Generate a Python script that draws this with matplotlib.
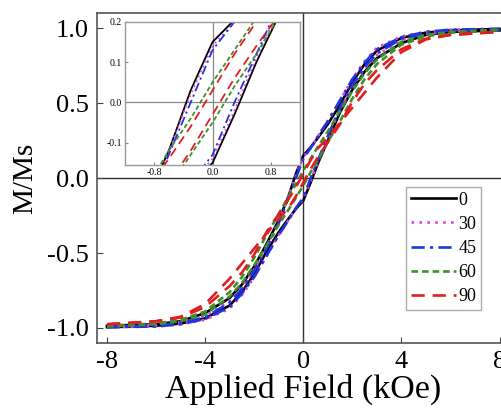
import numpy as np
import matplotlib
matplotlib.use("Agg")
import matplotlib.pyplot as plt

plt.rcParams['font.family'] = ['Liberation Serif', 'DejaVu Serif']

# applied field (kOe), shared grid for every branch
field = [-8, -6, -5, -4, -3, -2.5, -2, -1.5, -1, -0.6, -0.3, 0,
         0.3, 0.6, 1, 1.5, 2, 2.5, 3, 4, 5, 6, 8]

angles = ['0', '30', '45', '60', '90']

# upper branch (sweeping down from +8 kOe), M/Ms
upper_0 = [-0.985, -0.975, -0.955, -0.90, -0.80, -0.71, -0.59, -0.44, -0.28, -0.12, 0.03, 0.15,
           0.205, 0.27, 0.36, 0.49, 0.64, 0.76, 0.85, 0.935, 0.97, 0.985, 0.995]
upper_30 = [-0.99, -0.98, -0.96, -0.92, -0.82, -0.73, -0.61, -0.46, -0.29, -0.12, 0.02, 0.14,
            0.20, 0.28, 0.38, 0.52, 0.66, 0.78, 0.87, 0.945, 0.975, 0.99, 0.995]
upper_45 = [-0.99, -0.985, -0.965, -0.93, -0.83, -0.74, -0.62, -0.47, -0.30, -0.13, 0.00, 0.13,
            0.20, 0.28, 0.38, 0.52, 0.66, 0.77, 0.86, 0.94, 0.975, 0.99, 0.995]
upper_60 = [-0.985, -0.97, -0.945, -0.89, -0.76, -0.66, -0.53, -0.38, -0.24, -0.12, -0.04, 0.05,
            0.13, 0.21, 0.31, 0.45, 0.58, 0.70, 0.79, 0.91, 0.955, 0.975, 0.99]
upper_90 = [-0.975, -0.955, -0.93, -0.86, -0.72, -0.63, -0.51, -0.36, -0.24, -0.14, -0.06, 0.03,
            0.12, 0.20, 0.27, 0.37, 0.47, 0.57, 0.67, 0.84, 0.925, 0.955, 0.975]

# lower branch (sweeping up from -8 kOe), M/Ms
lower_0 = [-0.995, -0.985, -0.97, -0.935, -0.85, -0.76, -0.64, -0.49, -0.36, -0.27, -0.205, -0.15,
           -0.03, 0.10, 0.25, 0.44, 0.59, 0.71, 0.80, 0.90, 0.955, 0.975, 0.985]
lower_30 = [-0.995, -0.99, -0.975, -0.945, -0.87, -0.78, -0.66, -0.52, -0.38, -0.28, -0.20, -0.14,
            -0.02, 0.11, 0.27, 0.46, 0.61, 0.73, 0.82, 0.92, 0.96, 0.98, 0.99]
lower_45 = [-0.995, -0.99, -0.975, -0.94, -0.86, -0.77, -0.66, -0.52, -0.38, -0.28, -0.20, -0.13,
            0.00, 0.12, 0.28, 0.47, 0.62, 0.74, 0.83, 0.93, 0.965, 0.985, 0.99]
lower_60 = [-0.99, -0.975, -0.955, -0.91, -0.79, -0.70, -0.58, -0.45, -0.31, -0.21, -0.13, -0.05,
            0.04, 0.12, 0.24, 0.38, 0.53, 0.66, 0.76, 0.89, 0.945, 0.97, 0.985]
lower_90 = [-0.975, -0.955, -0.925, -0.84, -0.67, -0.57, -0.47, -0.37, -0.27, -0.20, -0.12, -0.03,
            0.06, 0.14, 0.24, 0.36, 0.51, 0.63, 0.72, 0.86, 0.93, 0.955, 0.975]

upper = [upper_0, upper_30, upper_45, upper_60, upper_90]
lower = [lower_0, lower_30, lower_45, lower_60, lower_90]

colors = ['black', '#e33ee3', '#1f35e0', '#3f8f2f', '#e02020']
styles = ['-', (0, (1, 2)), (0, (5, 2, 1.2, 2)), (0, (2.5, 1.5)), (0, (5, 3))]

fig = plt.figure(figsize=(5.02, 4.11), dpi=100)
ax = fig.add_axes([0.1932, 0.1655, 0.822, 0.8025])

for i in range(len(angles)):
    ax.plot(field, upper[i], color=colors[i], linestyle=styles[i], lw=1.9, label=angles[i])
    ax.plot(field, lower[i], color=colors[i], linestyle=styles[i], lw=1.9)

ax.axhline(0, color='#333333', lw=1.0, zorder=0)
ax.axvline(0, color='#333333', lw=1.0, zorder=0)

ax.set_xlim(-8.41, 8.41)
ax.set_ylim(-1.1, 1.1)
ax.set_xticks([-8, -4, 0, 4, 8])
ax.set_xticklabels(['-8', '-4', '0', '4', '8'])
ax.set_yticks([-1.0, -0.5, 0.0, 0.5, 1.0])
ax.set_yticklabels(['-1.0', '-0.5', '0.0', '0.5', '1.0'])
ax.tick_params(direction='in', length=4, labelsize=19, color='#444444', pad=6)
for s in ax.spines.values():
    s.set_color('#555555')
    s.set_linewidth(1.2)
ax.set_xlabel('Applied Field (kOe)', fontsize=24.5, labelpad=0)
ax.set_ylabel('M/Ms', fontsize=21, labelpad=6)

leg = ax.legend(loc='upper left', bbox_to_anchor=(0.809, 0.545), bbox_transform=fig.transFigure,
                fontsize=13, frameon=True, fancybox=False, borderaxespad=0,
                handlelength=2.5, handletextpad=0.15, labelspacing=0.4, borderpad=0.25)
leg.get_frame().set_edgecolor('#999999')
leg.get_frame().set_linewidth(1.0)

# inset zoom around the origin
ins = fig.add_axes([0.249, 0.599, 0.349, 0.348])
for i in range(len(angles)):
    ins.plot(field, upper[i], color=colors[i], linestyle=styles[i], lw=1.3)
    ins.plot(field, lower[i], color=colors[i], linestyle=styles[i], lw=1.3)
ins.axhline(0, color='#888888', lw=0.9, zorder=0)
ins.axvline(0, color='#888888', lw=0.9, zorder=0)
ins.set_xlim(-1.2, 1.2)
ins.set_ylim(-0.155, 0.2)
ins.set_xticks([-0.8, 0.0, 0.8])
ins.set_xticklabels(['-0.8', '0.0', '0.8'])
ins.set_yticks([-0.1, 0.0, 0.1, 0.2])
ins.set_yticklabels(['-0.1', '0.0', '0.1', '0.2'])
ins.tick_params(direction='in', length=2, labelsize=7, color='#888888', pad=2)
for s in ins.spines.values():
    s.set_color('#999999')
    s.set_linewidth(1.0)

fig.savefig('out.png', dpi=100)
